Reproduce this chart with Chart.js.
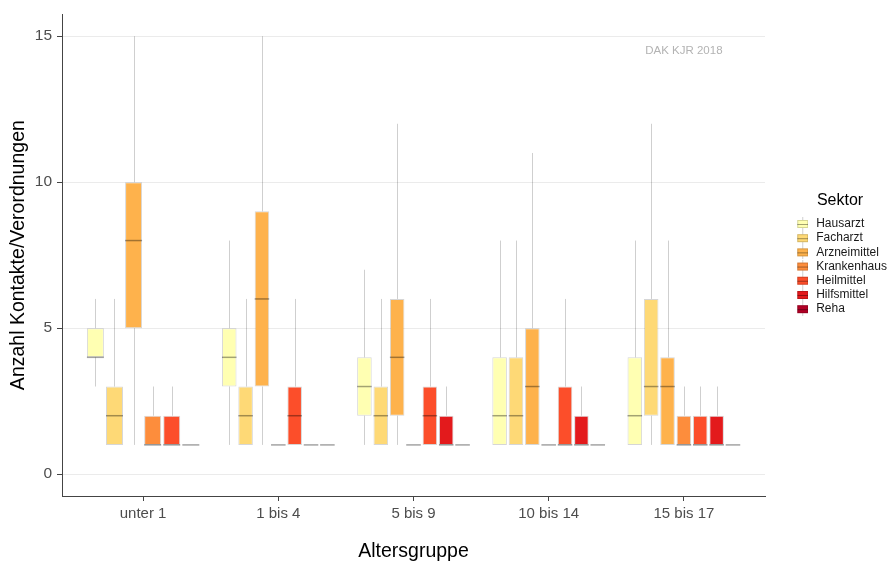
<!DOCTYPE html>
<html><head><meta charset="utf-8">
<script src="https://cdn.jsdelivr.net/npm/chart.js@4.4.1/dist/chart.umd.min.js"></script>
<style>html,body{margin:0;padding:0;background:#fff}</style>
</head><body>
<canvas id="c" width="888" height="562"></canvas>
<script>
// ---- data ----
const categories = ['unter 1', '1 bis 4', '5 bis 9', '10 bis 14', '15 bis 17'];
const sectors = ['Hausarzt', 'Facharzt', 'Arzneimittel', 'Krankenhaus', 'Heilmittel', 'Hilfsmittel', 'Reha'];
// [lower whisker, Q1, median, Q3, upper whisker] per age group
const hausarzt     = [[3,4,4,5,6], [1,3,4,5,8], [1,2,3,4,7], [1,1,2,4,8], [1,1,2,4,8]];
const facharzt     = [[1,1,2,3,6], [1,1,2,3,6], [1,1,2,3,6], [1,1,2,4,8], [1,2,3,6,12]];
const arzneimittel = [[1,5,8,10,15], [1,3,6,9,15], [1,2,4,6,12], [1,1,3,5,11], [1,1,3,4,8]];
const krankenhaus  = [[1,1,1,2,3], [1,1,1,1,1], [1,1,1,1,1], [1,1,1,1,1], [1,1,1,2,3]];
const heilmittel   = [[1,1,1,2,3], [1,1,2,3,6], [1,1,2,3,6], [1,1,1,3,6], [1,1,1,2,3]];
const hilfsmittel  = [[1,1,1,1,1], [1,1,1,1,1], [1,1,1,2,3], [1,1,1,2,3], [1,1,1,2,3]];
const reha         = [null, [1,1,1,1,1], [1,1,1,1,1], [1,1,1,1,1], [1,1,1,1,1]];
const yTickValues = [0, 5, 10, 15];
const annotationText = 'DAK KJR 2018';

// ---- styles ----
const sectorStats = [hausarzt, facharzt, arzneimittel, krankenhaus, heilmittel, hilfsmittel, reha];
const fills = ['#FFFFB2', '#FED976', '#FEB24C', '#FD8D3C', '#FC4E2A', '#E31A1C', '#B10026'];
const boxBorder = 'rgba(0,0,0,0.16)';
const medianColor = 'rgba(0,0,0,0.36)';
const whiskerColor = 'rgba(0,0,0,0.19)';
const FONT = '"Liberation Sans", Arial, Helvetica, sans-serif';
Chart.defaults.font.family = FONT;

function keyGlyph(color) {
  const c = document.createElement('canvas');
  c.width = 12; c.height = 14;
  const g = c.getContext('2d');
  g.strokeStyle = whiskerColor; g.lineWidth = 1;
  g.beginPath(); g.moveTo(6.5, 0); g.lineTo(6.5, 14); g.stroke();
  g.fillStyle = color; g.fillRect(1, 3, 11, 8);
  g.strokeStyle = boxBorder; g.strokeRect(1.5, 3.5, 10, 7);
  g.strokeStyle = medianColor;
  g.beginPath(); g.moveTo(1, 7.5); g.lineTo(12, 7.5); g.stroke();
  return c;
}
const glyphs = fills.map(keyGlyph);

const datasets = sectors.map((name, d) => ({
  label: name,
  data: categories.map((c, i) => ({ x: i, y: sectorStats[d][i] ? [sectorStats[d][i][1], sectorStats[d][i][3]] : null })),
  backgroundColor: fills[d],
  borderColor: boxBorder,
  borderWidth: 1,
  borderSkipped: false,
  skipNull: true,
  barPercentage: 0.89,
  categoryPercentage: 0.847
}));

function yPix(chart, v) { return chart.scales.y.getPixelForValue(v); }

const boxPlugin = {
  id: 'boxStats',
  beforeDatasetsDraw(chart) {
    const ctx = chart.ctx;
    ctx.save();
    ctx.strokeStyle = whiskerColor; ctx.lineWidth = 1;
    sectorStats.forEach((stats, d) => {
      const meta = chart.getDatasetMeta(d);
      stats.forEach((s, i) => {
        if (!s) return;
        const el = meta.data[i];
        const x = Math.round(el.x) + 0.5;
        ctx.beginPath();
        ctx.moveTo(x, yPix(chart, s[0])); ctx.lineTo(x, yPix(chart, s[1]));
        ctx.moveTo(x, yPix(chart, s[3])); ctx.lineTo(x, yPix(chart, s[4]));
        ctx.stroke();
      });
    });
    ctx.restore();
  },
  afterDatasetsDraw(chart) {
    const ctx = chart.ctx;
    ctx.save();
    ctx.strokeStyle = medianColor; ctx.lineWidth = 1.5;
    sectorStats.forEach((stats, d) => {
      const meta = chart.getDatasetMeta(d);
      stats.forEach((s, i) => {
        if (!s) return;
        const el = meta.data[i];
        const y = yPix(chart, s[2]);
        ctx.beginPath();
        ctx.moveTo(el.x - el.width / 2, y); ctx.lineTo(el.x + el.width / 2, y);
        ctx.stroke();
      });
    });
    ctx.fillStyle = '#b3b3b3';
    ctx.font = '11.5px ' + FONT;
    ctx.textAlign = 'center'; ctx.textBaseline = 'middle';
    ctx.fillText(annotationText, chart.scales.x.getPixelForValue(4), yPix(chart, 14.5));
    ctx.restore();
  }
};

new Chart(document.getElementById('c'), {
  type: 'bar',
  data: { datasets },
  plugins: [boxPlugin],
  options: {
    responsive: false,
    animation: false,
    layout: { padding: { top: 13, right: 0, bottom: 0, left: 0 } },
    plugins: {
      tooltip: { enabled: false },
      legend: {
        position: 'right',
        align: 'center',
        fullSize: false,
        maxWidth: 96,
        title: { display: true, text: 'Sektor', color: '#000', font: { size: 16 }, padding: { top: 0, bottom: 3.6 } },
        labels: {
          usePointStyle: true,
          pointStyleWidth: 16,
          padding: 2.2,
          color: '#1a1a1a',
          font: { size: 12 },
          generateLabels: chart => chart.data.datasets.map((ds, i) => ({
            text: ds.label, pointStyle: glyphs[i], fillStyle: ds.backgroundColor,
            strokeStyle: 'transparent', lineWidth: 0, hidden: false, datasetIndex: i, fontColor: '#1a1a1a'
          }))
        }
      }
    },
    scales: {
      x: {
        type: 'linear',
        min: -0.6, max: 4.6,
        offset: false,
        afterBuildTicks: s => { s.ticks = categories.map((c, i) => ({ value: i })); },
        afterFit: s => { s.height = 66; },
        ticks: { callback: v => categories[v], color: '#4d4d4d', font: { size: 15 }, padding: 3.5, maxRotation: 0, autoSkip: false },
        grid: { display: true, offset: false, drawOnChartArea: false, drawTicks: true, tickLength: 5, tickColor: '#444', tickWidth: 1 },
        border: { display: true, color: '#444', width: 1 },
        title: { display: true, text: 'Altersgruppe', color: '#000', font: { size: 19.5, lineHeight: 1.1 }, padding: { top: 0, bottom: 0 } }
      },
      y: {
        min: -0.75, max: 15.75,
        afterBuildTicks: s => { s.ticks = yTickValues.map(v => ({ value: v })); },
        afterFit: s => { s.width = 62; },
        ticks: { color: '#4d4d4d', font: { size: 15.5 }, padding: 5 },
        grid: { color: '#ebebeb', lineWidth: 1, tickLength: 5, tickColor: '#444', tickWidth: 1 },
        border: { display: true, color: '#444', width: 1 },
        title: { display: true, text: 'Anzahl Kontakte/Verordnungen', color: '#000', font: { size: 19.5, lineHeight: 1.1 }, padding: { top: 8, bottom: 0 } }
      },
      gap: {
        type: 'linear', position: 'right', display: true,
        afterFit: s => { s.width = 27; },
        ticks: { display: false },
        grid: { display: false },
        border: { display: false }
      }
    }
  }
});
</script>
</body></html>
